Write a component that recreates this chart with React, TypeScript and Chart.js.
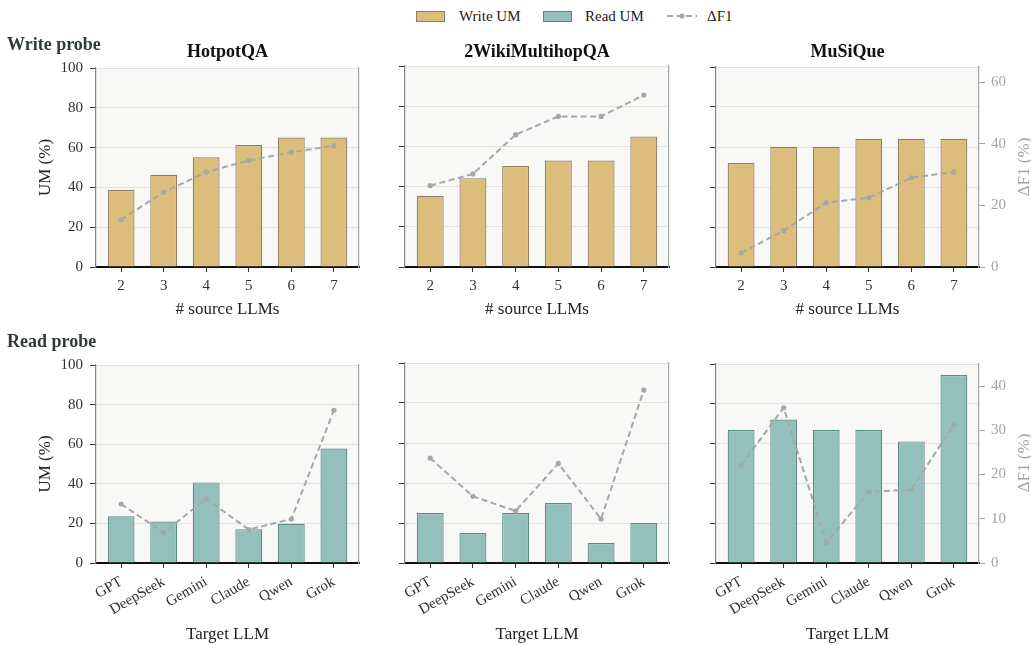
import React, { useEffect, useRef } from 'react';
import { Chart, registerables } from 'chart.js';

Chart.register(...registerables);

const FONT = "'Liberation Serif', 'Times New Roman', serif";

// ---------- data ----------
const sourceCounts = ['2', '3', '4', '5', '6', '7'];
const targetLLMs = ['GPT', 'DeepSeek', 'Gemini', 'Claude', 'Qwen', 'Grok'];
const datasetNames = ['HotpotQA', '2WikiMultihopQA', 'MuSiQue'];

const writeUmHotpot = [38.7, 46.3, 55.1, 61.3, 65.1, 65.1];
const writeF1Hotpot = [15.5, 24.4, 31.0, 34.8, 37.5, 39.6];
const writeUm2Wiki = [35.4, 44.2, 50.2, 53.0, 53.0, 64.9];
const writeF12Wiki = [26.3, 30.1, 42.8, 48.7, 48.7, 55.6];
const writeUmMusique = [52.0, 60.1, 60.1, 64.1, 64.1, 64.1];
const writeF1Musique = [4.6, 11.8, 20.9, 22.5, 29.0, 30.9];

const readUmHotpot = [23.6, 20.9, 40.7, 17.1, 19.8, 57.8];
const readF1Hotpot = [13.4, 6.9, 14.6, 7.6, 10.0, 34.7];
const readUm2Wiki = [25.0, 15.0, 25.0, 30.0, 10.0, 20.0];
const readF12Wiki = [23.6, 15.0, 11.7, 22.4, 9.9, 38.9];
const readUmMusique = [66.8, 72.1, 66.8, 66.8, 61.1, 94.5];
const readF1Musique = [22.1, 35.1, 4.6, 16.1, 16.6, 31.3];

const umTicks = [0, 20, 40, 60, 80, 100];
const writeF1Ticks = [0, 20, 40, 60];
const readF1Ticks = [0, 10, 20, 30, 40];
const writeF1Max = 65;
const readF1Max = 45;

// ---------- styles ----------
const WRITE_FILL = '#DCBD7B';
const WRITE_EDGE = '#8E7E62';
const READ_FILL = '#93C0BA';
const READ_EDGE = '#5B8984';
const LINE = '#A3A9A7';
const PLOT_BG = '#F8F8F6';

const COLS = [
  { plotLeft: 96, plotRight: 359, canvasLeft: 35 },
  { plotLeft: 405, plotRight: 669, canvasLeft: 365 },
  { plotLeft: 716, plotRight: 979, canvasLeft: 676 },
];
const ROWS = [
  { plotTop: 66, plotBottom: 267, xAxisH: 53 },
  { plotTop: 363, plotBottom: 563, xAxisH: 82 },
];
const PAD_TOP = 14;

const bgPlugin = {
  id: 'plotBg',
  beforeDraw(chart: any) {
    const { ctx, chartArea } = chart;
    if (!chartArea) return;
    ctx.save();
    ctx.fillStyle = PLOT_BG;
    ctx.fillRect(chartArea.left, chartArea.top, chartArea.right - chartArea.left, chartArea.bottom - chartArea.top);
    ctx.restore();
  },
};

type PanelProps = {
  row: number;
  col: number;
  labels: string[];
  um: number[];
  f1: number[];
};

function Panel({ row, col, labels, um, f1 }: PanelProps) {
  const ref = useRef<HTMLCanvasElement>(null);
  const c = COLS[col];
  const r = ROWS[row];
  const showRight = col === 2;
  const rightW = showRight ? 1031 - c.plotRight : 0;
  const padRight = showRight ? 0 : 10;
  const canvasRight = c.plotRight + rightW + padRight;
  const width = canvasRight - c.canvasLeft;
  const canvasTop = r.plotTop - PAD_TOP;
  const height = r.plotBottom + r.xAxisH - canvasTop;
  const isWrite = row === 0;

  useEffect(() => {
    if (!ref.current) return;
    const f1Ticks = isWrite ? writeF1Ticks : readF1Ticks;
    const chart = new Chart(ref.current, {
      type: 'bar',
      data: {
        datasets: [
          {
            type: 'line',
            label: 'ΔF1',
            data: f1.map((v, i) => ({ x: i, y: v })),
            xAxisID: 'x',
            yAxisID: 'y1',
            borderColor: LINE,
            backgroundColor: LINE,
            borderWidth: 2,
            borderDash: [6, 3.5],
            pointRadius: 2.6,
            pointBackgroundColor: LINE,
            pointBorderWidth: 0,
            tension: 0,
            order: 0,
          } as any,
          {
            type: 'bar',
            label: isWrite ? 'Write UM' : 'Read UM',
            data: um.map((v, i) => ({ x: i, y: v })),
            xAxisID: 'x',
            yAxisID: 'y',
            backgroundColor: isWrite ? WRITE_FILL : READ_FILL,
            borderColor: isWrite ? WRITE_EDGE : READ_EDGE,
            borderWidth: 1.2,
            borderSkipped: 'start',
            barPercentage: 0.63,
            categoryPercentage: 1,
            order: 1,
          } as any,
        ],
      },
      options: {
        responsive: false,
        animation: false,
        events: [],
        layout: { padding: { top: PAD_TOP, right: padRight, left: 0, bottom: 0 } },
        plugins: {
          legend: { display: false },
          tooltip: { enabled: false },
          title: { display: false },
        },
        scales: {
          x: {
            type: 'linear',
            position: 'bottom',
            min: -0.59,
            max: 5.59,
            offset: false,
            z: 1,
            afterBuildTicks: (s: any) => {
              s.ticks = labels.map((_, i) => ({ value: i }));
            },
            afterFit: (s: any) => {
              s.height = r.xAxisH;
            },
            ticks: {
              autoSkip: false,
              callback: (v: any) => labels[Math.round(Number(v))] ?? '',
              minRotation: isWrite ? 0 : 30,
              maxRotation: isWrite ? 0 : 30,
              color: '#333',
              font: { family: FONT, size: 15 },
              padding: 5,
            },
            grid: {
              display: true,
              drawOnChartArea: false,
              drawTicks: true,
              tickLength: 5,
              tickColor: '#333',
              offset: false,
            },
            border: { display: true, color: '#111', width: 2 },
            title: {
              display: true,
              text: isWrite ? '# source LLMs' : 'Target LLM',
              color: '#222',
              font: { family: FONT, size: 17 },
              padding: 0,
            },
          },
          y: {
            type: 'linear',
            position: 'left',
            min: 0,
            max: 100,
            afterBuildTicks: (s: any) => {
              s.ticks = umTicks.map((v) => ({ value: v }));
            },
            afterFit: (s: any) => {
              s.width = c.plotLeft - c.canvasLeft;
            },
            ticks: {
              display: col === 0,
              color: '#333',
              font: { family: FONT, size: 15 },
              padding: 7,
            },
            grid: {
              color: '#E2E2DF',
              lineWidth: 1,
              drawTicks: true,
              tickLength: 6,
              tickColor: '#333',
            },
            border: { display: true, color: '#7F8886', width: 1.2 },
            title: {
              display: col === 0,
              text: 'UM (%)',
              color: '#222',
              font: { family: FONT, size: 17 },
              padding: 0,
            },
          },
          y1: {
            type: 'linear',
            position: 'right',
            min: 0,
            max: isWrite ? writeF1Max : readF1Max,
            afterBuildTicks: (s: any) => {
              s.ticks = f1Ticks.map((v) => ({ value: v }));
            },
            afterFit: (s: any) => {
              s.width = rightW;
            },
            ticks: {
              display: showRight,
              color: '#A0A6A4',
              font: { family: FONT, size: 15 },
              padding: 6,
            },
            grid: {
              display: showRight,
              drawOnChartArea: false,
              drawTicks: true,
              tickLength: 6,
              tickColor: '#9FA5A3',
            },
            border: { display: true, color: '#9FA5A3', width: 1.2 },
            title: { display: false },
          },
        },
      } as any,
      plugins: [bgPlugin],
    });
    return () => chart.destroy();
  }, []);

  return (
    <canvas
      ref={ref}
      width={width}
      height={height}
      style={{ position: 'absolute', left: c.canvasLeft, top: canvasTop, width, height }}
    />
  );
}

const textBase: React.CSSProperties = {
  position: 'absolute',
  fontFamily: FONT,
  whiteSpace: 'nowrap',
  lineHeight: 1,
};

function Centered({ x, y, children, style }: any) {
  return (
    <div style={{ ...textBase, left: x, top: y, transform: 'translate(-50%, -50%)', ...style }}>{children}</div>
  );
}

export default function App() {
  const panels = [
    { row: 0, col: 0, labels: sourceCounts, um: writeUmHotpot, f1: writeF1Hotpot },
    { row: 0, col: 1, labels: sourceCounts, um: writeUm2Wiki, f1: writeF12Wiki },
    { row: 0, col: 2, labels: sourceCounts, um: writeUmMusique, f1: writeF1Musique },
    { row: 1, col: 0, labels: targetLLMs, um: readUmHotpot, f1: readF1Hotpot },
    { row: 1, col: 1, labels: targetLLMs, um: readUm2Wiki, f1: readF12Wiki },
    { row: 1, col: 2, labels: targetLLMs, um: readUmMusique, f1: readF1Musique },
  ];
  return (
    <div
      style={{
        position: 'fixed',
        left: 0,
        top: 0,
        width: 1031,
        height: 645,
        background: '#fff',
        overflow: 'hidden',
      }}
    >
      {panels.map((p, i) => (
        <Panel key={i} {...p} />
      ))}

      {/* legend */}
      <div style={{ position: 'absolute', left: 416, top: 11, width: 27, height: 9, background: WRITE_FILL, border: `1px solid ${WRITE_EDGE}` }} />
      <div style={{ ...textBase, left: 459, top: 16, transform: 'translateY(-50%)', fontSize: 15, color: '#222' }}>Write UM</div>
      <div style={{ position: 'absolute', left: 543, top: 11, width: 27, height: 9, background: READ_FILL, border: `1px solid ${READ_EDGE}` }} />
      <div style={{ ...textBase, left: 585, top: 16, transform: 'translateY(-50%)', fontSize: 15, color: '#222' }}>Read UM</div>
      <svg style={{ position: 'absolute', left: 666, top: 10 }} width={32} height={12}>
        <line x1={1} y1={6} x2={31} y2={6} stroke={LINE} strokeWidth={2} strokeDasharray="6 3.5" />
        <circle cx={16} cy={6} r={2.6} fill={LINE} />
      </svg>
      <div style={{ ...textBase, left: 707, top: 16, transform: 'translateY(-50%)', fontSize: 15, color: '#222' }}>ΔF1</div>

      {/* row labels */}
      <div style={{ ...textBase, left: 7, top: 44, transform: 'translateY(-50%)', fontSize: 18, fontWeight: 'bold', color: '#2F3C3A' }}>Write probe</div>
      <div style={{ ...textBase, left: 7, top: 341, transform: 'translateY(-50%)', fontSize: 18, fontWeight: 'bold', color: '#2F3C3A' }}>Read probe</div>

      {/* subplot titles */}
      {datasetNames.map((n, i) => (
        <Centered key={n} x={(COLS[i].plotLeft + COLS[i].plotRight) / 2} y={51} style={{ fontSize: 18, fontWeight: 'bold', color: '#111' }}>
          {n}
        </Centered>
      ))}

      {/* right axis titles */}
      <Centered x={1023} y={(ROWS[0].plotTop + ROWS[0].plotBottom) / 2} style={{ fontSize: 17, color: '#A0A6A4', transform: 'translate(-50%, -50%) rotate(-90deg)' }}>
        ΔF1 (%)
      </Centered>
      <Centered x={1023} y={(ROWS[1].plotTop + ROWS[1].plotBottom) / 2} style={{ fontSize: 17, color: '#A0A6A4', transform: 'translate(-50%, -50%) rotate(-90deg)' }}>
        ΔF1 (%)
      </Centered>
    </div>
  );
}
